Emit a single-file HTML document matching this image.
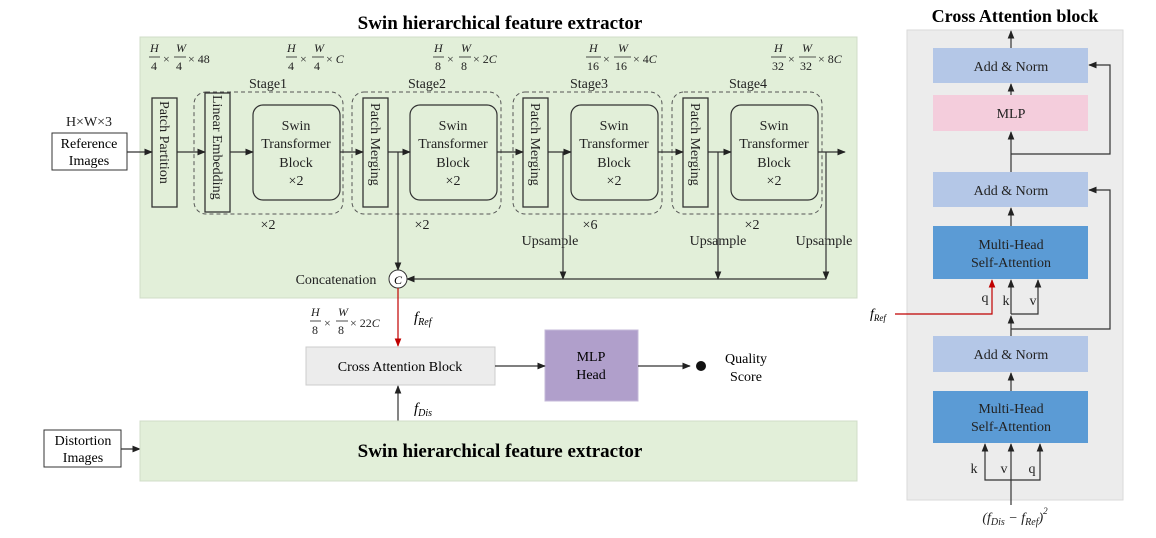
<!DOCTYPE html>
<html><head><meta charset="utf-8"><style>
body{margin:0;background:#fff;}
svg{display:block;font-family:"Liberation Serif",serif;}
</style></head><body>
<svg width="1156" height="538" viewBox="0 0 1156 538" xmlns="http://www.w3.org/2000/svg">
<defs>
<marker id="a" viewBox="0 0 10 10" refX="9" refY="5" markerWidth="7" markerHeight="7" orient="auto-start-reverse"><path d="M0,1 L10,5 L0,9 z" fill="#222"/></marker>
<marker id="r" viewBox="0 0 10 10" refX="9" refY="5" markerWidth="7" markerHeight="7" orient="auto"><path d="M0,1 L10,5 L0,9 z" fill="#c00000"/></marker>
</defs>
<text x="500" y="29" font-size="19" font-weight="bold" text-anchor="middle">Swin hierarchical feature extractor</text>
<rect x="140" y="37" width="717" height="261" fill="#e2efd9" stroke="#d0dcc8"/>
<g font-size="12" font-style="italic" fill="#222">
<text x="150" y="52">H</text><text x="176" y="52">W</text>
<line x1="149" y1="57" x2="160" y2="57" stroke="#222" stroke-width="0.8"/><line x1="174" y1="57" x2="186" y2="57" stroke="#222" stroke-width="0.8"/>
<text x="151" y="70" font-style="normal">4</text><text x="176" y="70" font-style="normal">4</text>
<text x="163" y="63" font-style="normal">×</text><text x="188" y="63" font-style="normal">× 48</text>

<text x="287" y="52">H</text><text x="314" y="52">W</text>
<line x1="286" y1="57" x2="297" y2="57" stroke="#222" stroke-width="0.8"/><line x1="312" y1="57" x2="324" y2="57" stroke="#222" stroke-width="0.8"/>
<text x="288" y="70" font-style="normal">4</text><text x="314" y="70" font-style="normal">4</text>
<text x="300" y="63" font-style="normal">×</text><text x="326" y="63"><tspan font-style="normal">× </tspan>C</text>

<text x="434" y="52">H</text><text x="461" y="52">W</text>
<line x1="433" y1="57" x2="444" y2="57" stroke="#222" stroke-width="0.8"/><line x1="459" y1="57" x2="471" y2="57" stroke="#222" stroke-width="0.8"/>
<text x="435" y="70" font-style="normal">8</text><text x="461" y="70" font-style="normal">8</text>
<text x="447" y="63" font-style="normal">×</text><text x="473" y="63"><tspan font-style="normal">× 2</tspan>C</text>

<text x="589" y="52">H</text><text x="618" y="52">W</text>
<line x1="586" y1="57" x2="601" y2="57" stroke="#222" stroke-width="0.8"/><line x1="614" y1="57" x2="631" y2="57" stroke="#222" stroke-width="0.8"/>
<text x="587" y="70" font-style="normal">16</text><text x="615" y="70" font-style="normal">16</text>
<text x="603" y="63" font-style="normal">×</text><text x="633" y="63"><tspan font-style="normal">× 4</tspan>C</text>

<text x="774" y="52">H</text><text x="802" y="52">W</text>
<line x1="771" y1="57" x2="786" y2="57" stroke="#222" stroke-width="0.8"/><line x1="799" y1="57" x2="816" y2="57" stroke="#222" stroke-width="0.8"/>
<text x="772" y="70" font-style="normal">32</text><text x="800" y="70" font-style="normal">32</text>
<text x="788" y="63" font-style="normal">×</text><text x="818" y="63"><tspan font-style="normal">× 8</tspan>C</text>
</g>
<g font-size="14" fill="#222" text-anchor="middle">
<text x="268" y="88">Stage1</text><text x="427" y="88">Stage2</text><text x="589" y="88">Stage3</text><text x="748" y="88">Stage4</text>
<text x="268" y="229">×2</text><text x="422" y="229">×2</text><text x="590" y="229">×6</text><text x="752" y="229">×2</text>
<text x="550" y="245">Upsample</text><text x="718" y="245">Upsample</text><text x="824" y="245">Upsample</text>
<text x="336" y="284">Concatenation</text>
<text x="89" y="126">H×W×3</text>
</g>
<g fill="none" stroke="#555" stroke-dasharray="4,3">
<rect x="194" y="92" width="149" height="122" rx="12"/>
<rect x="352" y="92" width="149" height="122" rx="12"/>
<rect x="513" y="92" width="149" height="122" rx="12"/>
<rect x="672" y="92" width="150" height="122" rx="12"/>
</g>
<rect x="52" y="133" width="75" height="37" fill="#fff" stroke="#333"/>
<text x="89" y="148" font-size="14" text-anchor="middle">Reference</text>
<text x="89" y="165" font-size="14" text-anchor="middle">Images</text>
<g fill="none" stroke="#333" stroke-width="1.3">
<rect x="152" y="98" width="25" height="109"/>
<rect x="205" y="93" width="25" height="119"/>
<rect x="363" y="98" width="25" height="109"/>
<rect x="523" y="98" width="25" height="109"/>
<rect x="683" y="98" width="25" height="109"/>
</g>
<g font-size="14" fill="#222">
<text transform="translate(160,101) rotate(90)">Patch Partition</text>
<text transform="translate(213,95) rotate(90)">Linear Embedding</text>
<text transform="translate(371,103) rotate(90)">Patch Merging</text>
<text transform="translate(531,103) rotate(90)">Patch Merging</text>
<text transform="translate(691,103) rotate(90)">Patch Merging</text>
</g>
<g fill="none" stroke="#333" stroke-width="1.2">
<rect x="253" y="105" width="87" height="95" rx="10"/>
<rect x="410" y="105" width="87" height="95" rx="10"/>
<rect x="571" y="105" width="87" height="95" rx="10"/>
<rect x="731" y="105" width="87" height="95" rx="10"/>
</g>
<g font-size="14" fill="#222" text-anchor="middle">
<text x="296" y="130">Swin</text><text x="296" y="148">Transformer</text><text x="296" y="167">Block</text><text x="296" y="185">×2</text>
<text x="453" y="130">Swin</text><text x="453" y="148">Transformer</text><text x="453" y="167">Block</text><text x="453" y="185">×2</text>
<text x="614" y="130">Swin</text><text x="614" y="148">Transformer</text><text x="614" y="167">Block</text><text x="614" y="185">×2</text>
<text x="774" y="130">Swin</text><text x="774" y="148">Transformer</text><text x="774" y="167">Block</text><text x="774" y="185">×2</text>
</g>
<g stroke="#333" stroke-width="1.2" fill="none" marker-end="url(#a)">
<line x1="127" y1="152" x2="152" y2="152"/>
<line x1="177" y1="152" x2="205" y2="152"/>
<line x1="230" y1="152" x2="253" y2="152"/>
<line x1="340" y1="152" x2="363" y2="152"/>
<line x1="388" y1="152" x2="410" y2="152"/>
<line x1="497" y1="152" x2="523" y2="152"/>
<line x1="548" y1="152" x2="571" y2="152"/>
<line x1="658" y1="152" x2="683" y2="152"/>
<line x1="708" y1="152" x2="731" y2="152"/>
<line x1="818" y1="152" x2="845" y2="152"/>
<line x1="398" y1="152" x2="398" y2="270"/>
<line x1="563" y1="152" x2="563" y2="279"/>
<line x1="718" y1="152" x2="718" y2="279"/>
<line x1="826" y1="152" x2="826" y2="279"/>
<line x1="826" y1="279" x2="407" y2="279"/>
</g>
<circle cx="398" cy="279" r="9" fill="#fff" stroke="#333"/>
<text x="398" y="284" font-size="12" font-style="italic" text-anchor="middle">C</text>
<line x1="398" y1="288" x2="398" y2="346" stroke="#c00000" stroke-width="1.2" marker-end="url(#r)"/>
<g font-size="12" fill="#222">
<text x="311" y="316" font-style="italic">H</text><text x="338" y="316" font-style="italic">W</text>
<line x1="310" y1="321" x2="321" y2="321" stroke="#222" stroke-width="0.8"/><line x1="336" y1="321" x2="348" y2="321" stroke="#222" stroke-width="0.8"/>
<text x="312" y="334">8</text><text x="338" y="334">8</text>
<text x="324" y="327">×</text><text x="350" y="327">× 22<tspan font-style="italic">C</tspan></text>
</g>
<text x="414" y="322" font-size="15" font-style="italic">f<tspan font-size="10" dy="3">Ref</tspan></text>
<text x="414" y="413" font-size="15" font-style="italic">f<tspan font-size="10" dy="3">Dis</tspan></text>
<rect x="306" y="347" width="189" height="38" fill="#ececec" stroke="#ccc"/>
<text x="400" y="371" font-size="14" text-anchor="middle">Cross Attention Block</text>
<rect x="545" y="330" width="93" height="71" fill="#b09fcb" stroke="#c4b8d8"/>
<text x="591" y="361" font-size="14" text-anchor="middle">MLP</text>
<text x="591" y="379" font-size="14" text-anchor="middle">Head</text>
<g stroke="#333" stroke-width="1.2" marker-end="url(#a)">
<line x1="495" y1="366" x2="545" y2="366"/>
<line x1="638" y1="366" x2="690" y2="366"/>
<line x1="398" y1="421" x2="398" y2="386"/>
<line x1="121" y1="449" x2="140" y2="449"/>
</g>
<circle cx="701" cy="366" r="5" fill="#111"/>
<text x="746" y="363" font-size="14" text-anchor="middle">Quality</text>
<text x="746" y="381" font-size="14" text-anchor="middle">Score</text>
<rect x="140" y="421" width="717" height="60" fill="#e2efd9" stroke="#d0dcc8"/>
<text x="500" y="457" font-size="19" font-weight="bold" text-anchor="middle">Swin hierarchical feature extractor</text>
<rect x="44" y="430" width="77" height="37" fill="#fff" stroke="#333"/>
<text x="83" y="445" font-size="14" text-anchor="middle">Distortion</text>
<text x="83" y="462" font-size="14" text-anchor="middle">Images</text>
<text x="1015" y="22" font-size="18" font-weight="bold" text-anchor="middle">Cross Attention block</text>
<rect x="907" y="30" width="216" height="470" fill="#ececec" stroke="#dadada"/>
<rect x="933" y="48" width="155" height="35" fill="#b4c7e7"/>
<rect x="933" y="95" width="155" height="36" fill="#f4cddc"/>
<rect x="933" y="172" width="155" height="35" fill="#b4c7e7"/>
<rect x="933" y="226" width="155" height="53" fill="#5b9bd5"/>
<rect x="933" y="336" width="155" height="36" fill="#b4c7e7"/>
<rect x="933" y="391" width="155" height="52" fill="#5b9bd5"/>
<g font-size="14" fill="#222" text-anchor="middle">
<text x="1011" y="71">Add &amp; Norm</text>
<text x="1011" y="118">MLP</text>
<text x="1011" y="195">Add &amp; Norm</text>
<text x="1011" y="249">Multi-Head</text><text x="1011" y="267">Self-Attention</text>
<text x="1011" y="359">Add &amp; Norm</text>
<text x="1011" y="413">Multi-Head</text><text x="1011" y="431">Self-Attention</text>
<text x="985" y="302">q</text><text x="1006" y="305">k</text><text x="1033" y="305">v</text>
<text x="974" y="473">k</text><text x="1004" y="473">v</text><text x="1032" y="473">q</text>
<text x="1015" y="522" font-style="italic">(f<tspan font-size="10" dy="3">Dis</tspan><tspan dy="-3"> − f</tspan><tspan font-size="10" dy="3">Ref</tspan><tspan dy="-3">)</tspan><tspan font-size="9" dy="-8">2</tspan></text>
</g>
<g stroke="#333" stroke-width="1.2" fill="none">
<line x1="1011" y1="48" x2="1011" y2="31" marker-end="url(#a)"/>
<line x1="1011" y1="95" x2="1011" y2="84" marker-end="url(#a)"/>
<line x1="1011" y1="172" x2="1011" y2="132" marker-end="url(#a)"/>
<polyline points="1011,154 1110,154 1110,65 1089,65" marker-end="url(#a)"/>
<line x1="1011" y1="226" x2="1011" y2="208" marker-end="url(#a)"/>
<polyline points="1011,329 1110,329 1110,190 1089,190" marker-end="url(#a)"/>
<line x1="1011" y1="336" x2="1011" y2="316" marker-end="url(#a)"/>
<line x1="1011" y1="314" x2="1011" y2="280" marker-end="url(#a)"/>
<polyline points="1011,314 1038,314 1038,280" marker-end="url(#a)"/>
<line x1="1011" y1="391" x2="1011" y2="373" marker-end="url(#a)"/>
<line x1="1011" y1="505" x2="1011" y2="444" marker-end="url(#a)"/>
<polyline points="1011,480 985,480 985,444" marker-end="url(#a)"/>
<polyline points="1011,480 1040,480 1040,444" marker-end="url(#a)"/>
</g>
<polyline points="895,314 992,314 992,280" fill="none" stroke="#c00000" stroke-width="1.2" marker-end="url(#r)"/>
<text x="870" y="318" font-size="14" font-style="italic">f<tspan font-size="9" dy="3">Ref</tspan></text>
</svg>
</body></html>
